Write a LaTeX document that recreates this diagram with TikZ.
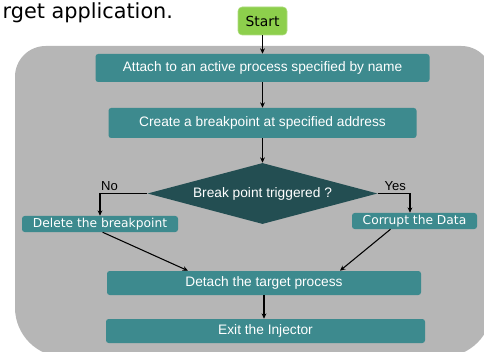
\documentclass[tikz,border=0pt]{standalone}
\usepackage{fontspec}
\setmainfont{Liberation Sans}
\newfontfamily\titlefont{DejaVu Sans}
\usetikzlibrary{positioning,arrows.meta,shapes.geometric}
\definecolor{panelgray}{HTML}{B6B6B6}
\definecolor{boxteal}{HTML}{3D8A8E}
\definecolor{decteal}{HTML}{234E52}
\definecolor{startgreen}{HTML}{8DCF4C}
\tikzset{
  stepbox/.style  = {fill=boxteal, rounded corners=2pt, text=white, inner sep=0pt,
                     font=\fontsize{10.3}{12}\selectfont},
  smallbox/.style = {stepbox, minimum height=12pt, font=\titlefont\fontsize{9.2}{11}\selectfont},
  startbox/.style = {fill=startgreen, draw=startgreen!70!white, rounded corners=3pt,
                     inner sep=0pt, minimum width=36.75pt, minimum height=21pt,
                     font=\titlefont\fontsize{10.4}{12}\selectfont},
  decision/.style = {diamond, shape aspect=3.77, fill=decteal, text=white, inner sep=0pt,
                     minimum width=172.5pt, minimum height=45.75pt,
                     font=\fontsize{10.3}{12}\selectfont},
  lbl/.style      = {inner sep=1.5pt, font=\fontsize{9.8}{11}\selectfont},
  arrow/.style    = {-{Stealth[length=4pt,width=3.6pt]}, line width=0.8pt},
}

\begin{document}
\begin{tikzpicture}[x=0.75pt,y=-0.75pt]
  \useasboundingbox (0,0) rectangle (484,352);
  \clip (0,0) rectangle (484,352);

  % grey panel behind the flow
  \fill[panelgray] (15,200) [rounded corners=23pt] -- (15,46) -- (492,46) -- (492,200)
    [rounded corners=37pt] -- (492,357) -- (15,357) -- (15,200) -- cycle;

  \node[anchor=base west, font=\titlefont\fontsize{15.6}{19}\selectfont] (title) at (-2,19) {rget application.};

  \node[startbox] (start) at (262.5,21) {Start};
  \node[stepbox, minimum width=250.5pt, minimum height=21pt] (attach) at (262.5,68)
    {Attach to an active process specified by name};
  \node[stepbox, minimum width=231pt, minimum height=22.5pt] (create) at (262.5,123)
    {Create a breakpoint at specified address};
  \node[decision] (dec) at (262.5,193.5) {Break point triggered ?};
  \node[smallbox, minimum width=117pt] (del) at (100,224) {Delete the breakpoint};
  \node[smallbox, minimum width=93.75pt] (cor) at (414.5,221) {Corrupt the Data};
  \node[stepbox, minimum width=235.5pt, minimum height=18pt] (det) at (264,283)
    {Detach the target process};
  \node[stepbox, minimum width=239.25pt, minimum height=18pt] (exit) at (265.5,331)
    {Exit the Injector};

  \draw[arrow] (start) -- (attach);
  \draw[arrow] (attach) -- (create);
  \draw[arrow] (create) -- (dec);
  \draw[arrow] (dec.west) -| node[lbl, pos=0.4, above] (no) {No} (del.north);
  \draw[arrow] (dec.east) -| node[lbl, pos=0.27, above] (yes) {Yes} ([xshift=-3.4pt]cor.north);
  \draw[arrow] ([xshift=2pt]del.south) -- ([xshift=-57pt]det.north);
  \draw[arrow] ([xshift=-18pt]cor.south) -- ([xshift=57pt]det.north);
  \draw[arrow] (det.south) -- (det.south |- exit.north);
\end{tikzpicture}
\end{document}
